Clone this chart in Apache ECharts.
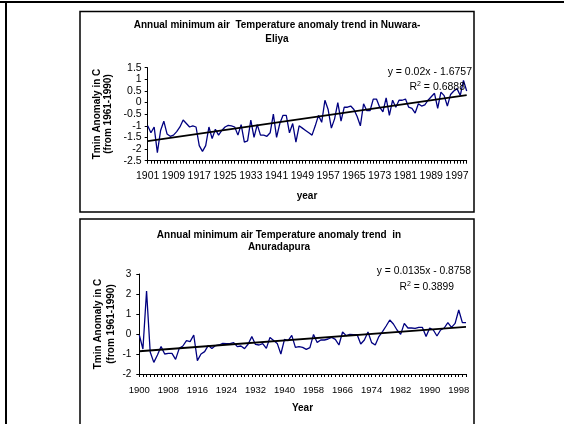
<!DOCTYPE html>
<html>
<head>
<meta charset="utf-8">
<script src="https://cdn.jsdelivr.net/npm/echarts@6/dist/echarts.min.js"></script>
<style>
html,body{margin:0;padding:0;background:#fff;}
#c{width:564px;height:424px;}
</style>
</head>
<body>
<div id="c"></div>
<script>
// ---------- data ----------
// Chart 1: Nuwara-Eliya, 1901-2000
const nuwaraYears = [];
for (let y = 1901; y <= 2000; y++) nuwaraYears.push(String(y));
const nuwaraValues = [
 -1.0,-1.3,-1.05,-2.15,-1.2,-0.8,-1.35,-1.45,-1.4,-1.25,
 -1.05,-0.75,-0.9,-1.05,-1.0,-1.05,-1.85,-2.1,-1.85,-1.05,
 -1.55,-1.15,-1.4,-1.2,-1.05,-0.98,-1.0,-1.05,-1.4,-0.95,
 -1.7,-1.65,-0.75,-1.5,-0.95,-1.4,-1.4,-1.45,-1.3,-0.5,
 -1.5,-0.9,-0.55,-0.55,-1.3,-0.9,-1.7,-1.0,-1.1,-1.2,
 -1.3,-1.4,-1.0,-0.55,-0.85,0.1,-0.3,-1.1,-0.7,0.0,
 -0.8,-0.2,-0.2,-0.15,-0.3,-0.6,-1.0,-0.05,-0.35,-0.35,
 0.15,0.15,-0.2,-0.4,0.2,-0.55,0.1,-0.2,0.1,0.1,
 0.15,-0.2,-0.25,-0.45,-0.05,-0.15,-0.1,0.1,0.25,0.4,
 -0.25,0.45,0.3,-0.15,0.35,0.5,0.6,0.3,0.95,0.5
];
const nuwaraTrend = [-1.6557, 0.3243];   // y = 0.02x - 1.6757 at first and last year
const nuwaraYTicks = { min: -2.5, max: 1.5, step: 0.5 };

// Chart 2: Anuradapura (1900-1947, 1958-2000)
const anuraYears = [];
for (let y = 1900; y <= 1947; y++) anuraYears.push(String(y));
for (let y = 1958; y <= 2000; y++) anuraYears.push(String(y));
const anuraValues = [
 -0.05,-0.75,2.15,-0.9,-1.42,-1.05,-0.63,-1.0,-0.97,-0.97,
 -1.27,-0.72,-0.6,-0.33,-0.38,-0.05,-1.33,-1.0,-0.88,-0.57,
 -0.72,-0.58,-0.55,-0.47,-0.48,-0.48,-0.43,-0.63,-0.6,-0.73,
 -0.5,-0.13,-0.52,-0.55,-0.48,-0.72,-0.17,-0.33,-0.47,-1.0,
 -0.27,-0.33,-0.07,-0.67,-0.63,-0.67,-0.77,-0.68,-0.02,-0.42,
 -0.3,-0.3,-0.25,-0.17,-0.27,-0.55,0.1,-0.08,-0.02,-0.03,
 -0.03,-0.5,-0.3,0.1,-0.43,-0.55,-0.13,0.12,0.4,0.7,
 0.5,0.2,-0.02,0.53,0.3,0.3,0.28,0.33,0.33,-0.13,
 0.3,0.2,-0.1,0.2,0.3,0.57,0.33,0.53,1.2,0.57,0.57
];
const anuraTrend = [-0.8623, 0.3527];    // y = 0.0135x - 0.8758 at first and last year
const anuraYTicks = { min: -2, max: 3, step: 1 };

const titles = [
  'Annual minimum air  Temperature anomaly trend in Nuwara-\nEliya',
  'Annual minimum air Temperature anomaly trend  in\nAnuradapura'
];
const yNames = ['Tmin Anomaly in C', '(from 1961-1990)'];
const xNames = ['year', 'Year'];
const equations = ['y = 0.02x - 1.6757', 'y = 0.0135x - 0.8758'];
const r2 = ['0.6888', '0.3899'];

// ---------- chart ----------
const FONT = '"Liberation Sans", Arial, sans-serif';
const chart = echarts.init(document.getElementById('c'), null, {renderer: 'canvas'});

function xAxis(idx, cats, fs, margin) {
  return {
    type: 'category', gridIndex: idx, data: cats, boundaryGap: false,
    axisLine: {show: true, onZero: false, lineStyle: {color: '#000', width: 1}},
    axisTick: {show: true, interval: 0, length: 3, lineStyle: {color: '#000', width: 1}},
    axisLabel: {interval: 7, fontSize: fs, color: '#000', margin: margin, fontFamily: FONT},
    splitLine: {show: false}
  };
}
function yAxis(idx, t, fs, margin) {
  return {
    type: 'value', gridIndex: idx, min: t.min, max: t.max, interval: t.step,
    axisLine: {show: true, onZero: false, lineStyle: {color: '#000', width: 1}},
    axisTick: {show: true, length: 3, lineStyle: {color: '#000', width: 1}},
    axisLabel: {fontSize: fs, color: '#000', margin: margin, fontFamily: FONT},
    splitLine: {show: false}
  };
}
function dataSeries(idx, vals) {
  return {
    type: 'line', xAxisIndex: idx, yAxisIndex: idx, data: vals,
    showSymbol: false, symbol: 'none', z: 2, silent: true,
    lineStyle: {color: '#000080', width: 1.3}, itemStyle: {color: '#000080'}
  };
}
function trendSeries(idx, cats, tr) {
  return {
    type: 'line', xAxisIndex: idx, yAxisIndex: idx,
    data: [[cats[0], tr[0]], [cats[cats.length - 1], tr[1]]],
    showSymbol: false, symbol: 'none', z: 3, silent: true,
    lineStyle: {color: '#000', width: 1.8}, itemStyle: {color: '#000'}
  };
}

function txt(x, y, text, opt) {
  return {
    type: 'text', x: x, y: y, rotation: opt.rotation || 0, z: 10, silent: true,
    style: Object.assign({
      text: text, fill: '#000', font: (opt.bold ? 'bold ' : '') + (opt.size || 10) + 'px ' + FONT,
      textAlign: opt.align || 'center', textVerticalAlign: 'middle', lineHeight: opt.lh || 12
    }, opt.extra || {})
  };
}

const graphics = [
  // outer frame lines
  {type: 'rect', shape: {x: 0, y: 1, width: 564, height: 2}, style: {fill: '#000'}, silent: true},
  {type: 'rect', shape: {x: 5, y: 1, width: 2, height: 424}, style: {fill: '#000'}, silent: true},
  // chart boxes
  {type: 'rect', shape: {x: 80, y: 11.5, width: 394, height: 200.5}, style: {fill: 'none', stroke: '#000', lineWidth: 1.5}, silent: true},
  {type: 'rect', shape: {x: 80, y: 219, width: 394, height: 220}, style: {fill: 'none', stroke: '#000', lineWidth: 1.5}, silent: true},
  // titles
  txt(277, 32, titles[0], {bold: true, size: 10, lh: 14}),
  txt(279, 241, titles[1], {bold: true, size: 10, lh: 12}),
  // y axis names
  txt(103, 114, yNames[0] + '\n' + yNames[1], {bold: true, size: 10, lh: 11, rotation: Math.PI / 2}),
  txt(105, 324, yNames[0] + '\n' + yNames[1], {bold: true, size: 10, lh: 13, rotation: Math.PI / 2}),
  // x axis names
  txt(307, 196, xNames[0], {bold: true, size: 10}),
  txt(302.5, 408, xNames[1], {bold: true, size: 10}),
  // equations
  txt(472, 72, equations[0], {size: 10.5, align: 'right'}),
  txt(465, 87, '{n|R}{s|2}{n| = ' + r2[0] + '}', {size: 10.5, align: 'right', extra: {rich: {
    n: {fontSize: 10.5, fontFamily: FONT, fill: '#000'},
    s: {fontSize: 7, fontFamily: FONT, fill: '#000', verticalAlign: 'top', padding: [0, 0, 6, 0]}
  }}}),
  txt(471, 271, equations[1], {size: 10.3, align: 'right'}),
  txt(454, 287, '{n|R}{s|2}{n| = ' + r2[1] + '}', {size: 10.3, align: 'right', extra: {rich: {
    n: {fontSize: 10.3, fontFamily: FONT, fill: '#000'},
    s: {fontSize: 7, fontFamily: FONT, fill: '#000', verticalAlign: 'top', padding: [0, 0, 6, 0]}
  }}})
];

chart.setOption({
  animation: false,
  backgroundColor: '#fff',
  textStyle: {fontFamily: FONT},
  grid: [
    {left: 147.7, top: 67.7, width: 319, height: 93},
    {left: 139.3, top: 274, width: 326.7, height: 100}
  ],
  xAxis: [xAxis(0, nuwaraYears, 10.5, 10), xAxis(1, anuraYears, 9.5, 11)],
  yAxis: [yAxis(0, nuwaraYTicks, 10.5, 6), yAxis(1, anuraYTicks, 10, 8)],
  series: [
    dataSeries(0, nuwaraValues), trendSeries(0, nuwaraYears, nuwaraTrend),
    dataSeries(1, anuraValues), trendSeries(1, anuraYears, anuraTrend)
  ],
  graphic: graphics
});
</script>
</body>
</html>
